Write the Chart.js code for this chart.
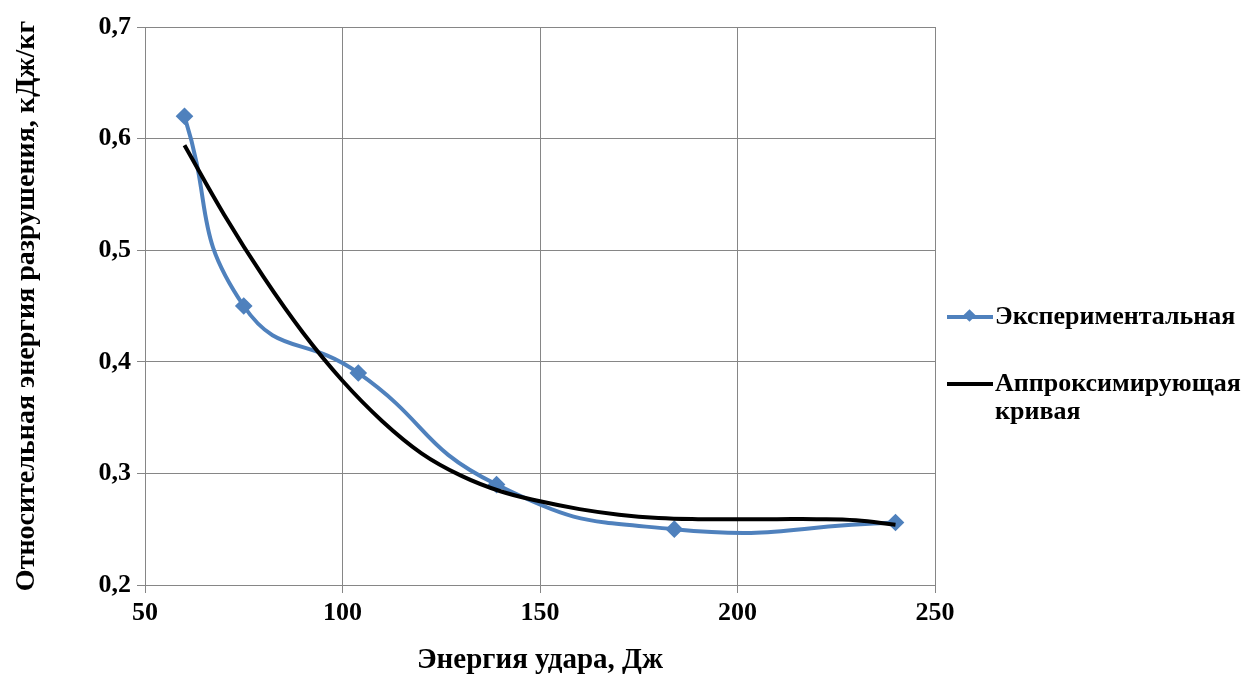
<!DOCTYPE html>
<html>
<head>
<meta charset="utf-8">
<script src="https://cdn.jsdelivr.net/npm/chart.js@4"></script>
<style>
  html, body { margin: 0; padding: 0; background: #fff; }
  .wrap { position: relative; width: 1247px; height: 675px; }
  #myChart { position: absolute; left: 0; top: 0; }
  .legend { position: absolute; left: 947px; top: 0; font-family: "Liberation Serif", "Times New Roman", serif; font-weight: bold; font-size: 26px; color: #000; }
  .legend .item { position: absolute; left: 0; display: flex; align-items: flex-start; white-space: nowrap; }
  .legend .line { position: relative; width: 46px; height: 4px; margin-top: 13px; }
  .legend .diamond { position: absolute; left: 18px; top: -4px; width: 9px; height: 9px; transform: rotate(45deg); }
  .legend .text { margin-left: 2px; line-height: 28px; }
</style>
</head>
<body>
<div class="wrap">
  <canvas id="myChart" width="1247" height="675"></canvas>
  <div class="legend" id="legend"></div>
</div>
<script>
// experimental points
const expEnergy = [60, 75, 104, 139, 184, 240];
const expValue = [0.62, 0.45, 0.39, 0.29, 0.25, 0.256];

// approximating curve
const fitEnergy = [60, 70, 80, 90, 100, 110, 120, 130, 140, 150, 160, 170, 180, 190, 200, 210, 220, 230, 240];
const fitValue = [0.594, 0.532, 0.476, 0.426, 0.383, 0.347, 0.318, 0.298, 0.284, 0.275, 0.268, 0.263, 0.26, 0.259, 0.259, 0.259, 0.259, 0.258, 0.254];

const seriesNames = ['Экспериментальная', 'Аппроксимирующая кривая'];
const xTicks = [50, 100, 150, 200, 250];
const yTicks = [0.2, 0.3, 0.4, 0.5, 0.6, 0.7];

const xTitle = 'Энергия удара, Дж';
const yTitle = 'Относительная энергия разрушения, кДж/кг';

const blue = '#4f81bd';
const gridColor = '#868686';
const font = 'Liberation Serif';

const toPoints = (xs, ys) => xs.map((x, i) => ({ x: x, y: ys[i] }));

const data = {
        datasets: [{
                label: seriesNames[0],
                data: toPoints(expEnergy, expValue),
                borderColor: blue,
                backgroundColor: blue,
                borderWidth: 4,
                tension: 0.5,
                pointStyle: 'rectRot',
                pointRadius: 6,
                pointHoverRadius: 6,
                order: 2
        }, {
                label: seriesNames[1],
                data: toPoints(fitEnergy, fitValue),
                borderColor: '#000',
                backgroundColor: '#000',
                borderWidth: 4,
                tension: 0.4,
                pointRadius: 0,
                order: 1
        }]
};

const config = {
        type: 'line',
        data: data,
        options: {
                responsive: false,
                animation: false,
                layout: { padding: { left: 10, top: 27, right: 312, bottom: 0 } },
                plugins: {
                        legend: { display: false },
                        tooltip: { enabled: false }
                },
                scales: {
                        x: {
                                type: 'linear',
                                min: xTicks[0],
                                max: xTicks[xTicks.length - 1],
                                afterBuildTicks: s => { s.ticks = xTicks.map(v => ({ value: v })); },
                                afterFit: s => { s.height = 675 - 585; },
                                grid: { color: gridColor, tickLength: 8, tickColor: gridColor },
                                border: { color: gridColor },
                                ticks: {
                                        color: '#000',
                                        font: { family: font, size: 26, weight: 'bold' },
                                        padding: 5,
                                        maxRotation: 0
                                },
                                title: {
                                        display: true,
                                        text: xTitle,
                                        color: '#000',
                                        font: { family: font, size: 29, weight: 'bold' },
                                        padding: { top: 2, bottom: -3 }
                                }
                        },
                        y: {
                                min: yTicks[0],
                                max: yTicks[yTicks.length - 1],
                                afterBuildTicks: s => { s.ticks = yTicks.map(v => ({ value: v })); },
                                afterFit: s => { s.width = 145 - 10; },
                                grid: { color: gridColor, tickLength: 8, tickColor: gridColor },
                                border: { color: gridColor },
                                ticks: {
                                        color: '#000',
                                        font: { family: font, size: 26, weight: 'bold' },
                                        padding: 6,
                                        callback: v => v.toFixed(1).replace('.', ',')
                                },
                                title: {
                                        display: true,
                                        text: yTitle,
                                        color: '#000',
                                        font: { family: font, size: 28, weight: 'bold' },
                                        padding: { top: 0, bottom: 0 }
                                }
                        }
                }
        }
};

const myChart = new Chart(document.getElementById('myChart'), config);

// legend on the right, wraps the long name like the original
const legendTops = [302, 369];
const legend = document.getElementById('legend');
myChart.data.datasets.forEach((ds, i) => {
        const item = document.createElement('div');
        item.className = 'item';
        item.style.top = legendTops[i] + 'px';
        const line = document.createElement('div');
        line.className = 'line';
        line.style.background = ds.borderColor;
        if (ds.pointRadius > 0) {
                const d = document.createElement('div');
                d.className = 'diamond';
                d.style.background = ds.borderColor;
                line.appendChild(d);
        }
        const text = document.createElement('div');
        text.className = 'text';
        text.innerHTML = ds.label.replace(' ', '<br>');
        item.appendChild(line);
        item.appendChild(text);
        legend.appendChild(item);
});
</script>
</body>
</html>
